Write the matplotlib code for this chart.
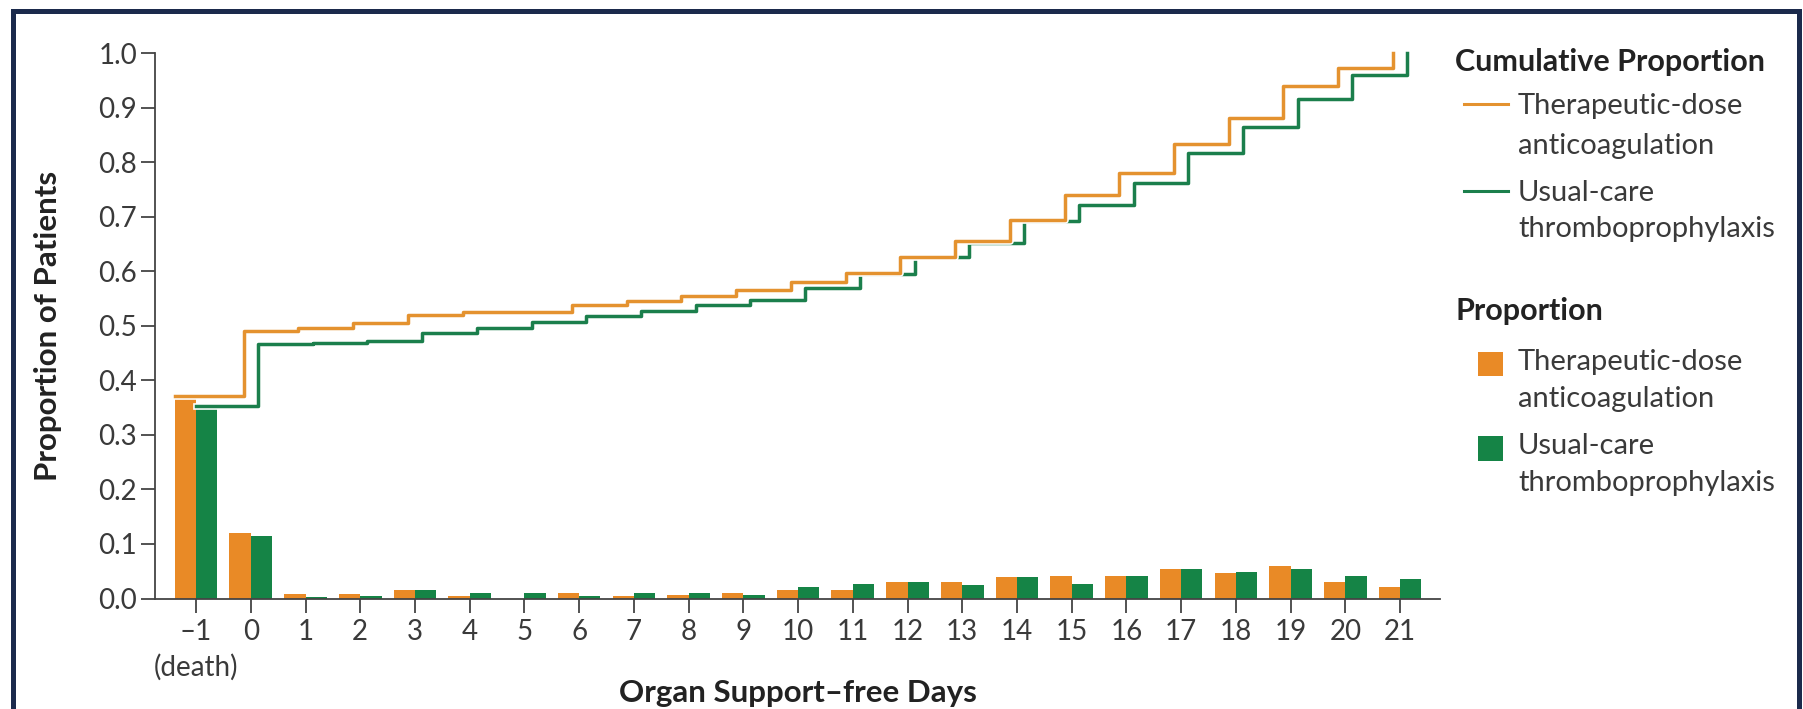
import numpy as np
import matplotlib
matplotlib.use("Agg")
import matplotlib.pyplot as plt
import matplotlib.patheffects as pe
from matplotlib.lines import Line2D
from matplotlib.patches import Rectangle

plt.rcParams['font.family'] = ['Lato', 'DejaVu Sans']

# --- data: organ support-free days (-1 = death) ---
days = [-1, 0, 1, 2, 3, 4, 5, 6, 7, 8, 9, 10, 11, 12, 13, 14, 15, 16, 17, 18, 19, 20, 21]
day_labels = ['\u20131\n(death)'] + [str(d) for d in days[1:]]

# proportion of patients per day
ther_prop = [0.370, 0.120, 0.008, 0.008, 0.015, 0.005, 0.000, 0.010, 0.005, 0.006, 0.011, 0.016,
             0.015, 0.030, 0.030, 0.040, 0.042, 0.041, 0.054, 0.046, 0.060, 0.031, 0.021]
usual_prop = [0.352, 0.114, 0.003, 0.005, 0.015, 0.010, 0.010, 0.005, 0.010, 0.010, 0.007, 0.021,
              0.026, 0.030, 0.025, 0.040, 0.027, 0.041, 0.054, 0.048, 0.054, 0.042, 0.036]

# cumulative proportion
ther_cum = [0.371, 0.490, 0.497, 0.505, 0.520, 0.526, 0.526, 0.539, 0.545, 0.554, 0.565, 0.581,
            0.597, 0.627, 0.656, 0.695, 0.740, 0.781, 0.834, 0.881, 0.940, 0.973, 1.0]
usual_cum = [0.353, 0.466, 0.468, 0.472, 0.487, 0.496, 0.507, 0.518, 0.528, 0.539, 0.548, 0.569,
             0.595, 0.626, 0.652, 0.692, 0.721, 0.763, 0.817, 0.864, 0.917, 0.961, 1.0]

ORANGE = '#E98A26'
GREEN = '#158446'
ORANGE_LINE = '#E4922F'
GREEN_LINE = '#1B7F4C'
AXIS = '#444444'
TXT = '#3a3a3a'
DARK = '#222222'

W, H = 1803, 709
fig = plt.figure(figsize=(W / 100, H / 100), dpi=100)
ax = fig.add_axes([155 / W, 1 - 598.5 / H, (1440 - 155) / W, (598.5 - 53.3) / H])

x = np.array(days, dtype=float)
bw = 0.39
ax.bar(x - bw / 2, ther_prop, bw, color=ORANGE, zorder=2)
ax.bar(x + bw / 2, usual_prop, bw, color=GREEN, zorder=2)

# cumulative step lines, slightly offset so both stay visible
halo = [pe.Stroke(linewidth=4.8, foreground='white'), pe.Normal()]
xo = x - 0.13
xo[0] = x[0] - bw
ax.step(xo, ther_cum, where='post', color=ORANGE_LINE, lw=2.5, zorder=4,
        clip_on=False, path_effects=halo)
xg = x + 0.13
xg[0] = x[0]
ax.step(xg, usual_cum, where='post', color=GREEN_LINE, lw=2.5, zorder=3,
        clip_on=False, path_effects=halo)

ax.set_xlim(-1.75, 21.73)
ax.set_ylim(0, 1.0)
ax.set_xticks(days)
ax.set_xticklabels(day_labels)
ax.set_yticks(np.arange(0, 1.01, 0.1))
ax.set_yticklabels([f'{v:.1f}' for v in np.arange(0, 1.01, 0.1)])
for lbl in ax.get_xticklabels():
    lbl.set_linespacing(1.37)

for s in ['top', 'right']:
    ax.spines[s].set_visible(False)
ax.spines['left'].set_bounds(0, 1.0)
for s in ['left', 'bottom']:
    ax.spines[s].set_color(AXIS)
    ax.spines[s].set_linewidth(1.3)
ax.tick_params(axis='y', length=10, width=1.3, color=AXIS, pad=3,
               labelsize=20, labelcolor=TXT)
ax.tick_params(axis='x', length=10, width=1.3, color=AXIS, pad=5,
               labelsize=20, labelcolor=TXT)

ax.set_xlabel('Organ Support\u2013free Days', fontsize=22.5, fontweight='bold', color=DARK)
ax.xaxis.set_label_coords(0.5, -0.148)
ax.xaxis.label.set_va('top')
ax.set_ylabel('Proportion of Patients', fontsize=22.5, fontweight='bold', color=DARK)
ax.yaxis.set_label_coords(-0.072, 0.5)

# legend, drawn in figure pixels
def fx(px):
    return px / W

def fy(py):
    return 1 - py / H

def entry(y1, y2, label1, label2, key):
    if key == 'line':
        col = ORANGE_LINE if 'Thera' in label1 else GREEN_LINE
        fig.add_artist(Line2D([fx(1464), fx(1508)], [fy(y1 - 2), fy(y1 - 2)],
                              color=col, lw=2.2))
    else:
        col = ORANGE if 'Thera' in label1 else GREEN
        fig.add_artist(Rectangle((fx(1478), fy(y1 + 14.5)), 25 / W, 25 / H,
                                 color=col, lw=0))
    fig.text(fx(1518), fy(y1), label1, fontsize=21, color=TXT, va='center', ha='left')
    fig.text(fx(1518), fy(y2), label2, fontsize=21, color=TXT, va='center', ha='left')

fig.text(fx(1455), fy(62), 'Cumulative Proportion', fontsize=22, fontweight='bold',
         color=DARK, va='center', ha='left')
entry(106, 146, 'Therapeutic-dose', 'anticoagulation', 'line')
entry(193, 229, 'Usual-care', 'thromboprophylaxis', 'line')
fig.text(fx(1455), fy(311), 'Proportion', fontsize=22, fontweight='bold',
         color=DARK, va='center', ha='left')
entry(362, 399, 'Therapeutic-dose', 'anticoagulation', 'box')
entry(446, 483, 'Usual-care', 'thromboprophylaxis', 'box')

# navy frame around the panel (bottom edge runs past the image)
fig.add_artist(Rectangle((fx(12.5), -0.1), fx(1799) - fx(12.5), fy(10.5) + 0.1,
                         fill=False, edgecolor='#1B2A4C', lw=3.6))

fig.savefig('out.png', dpi=100, facecolor='white')
